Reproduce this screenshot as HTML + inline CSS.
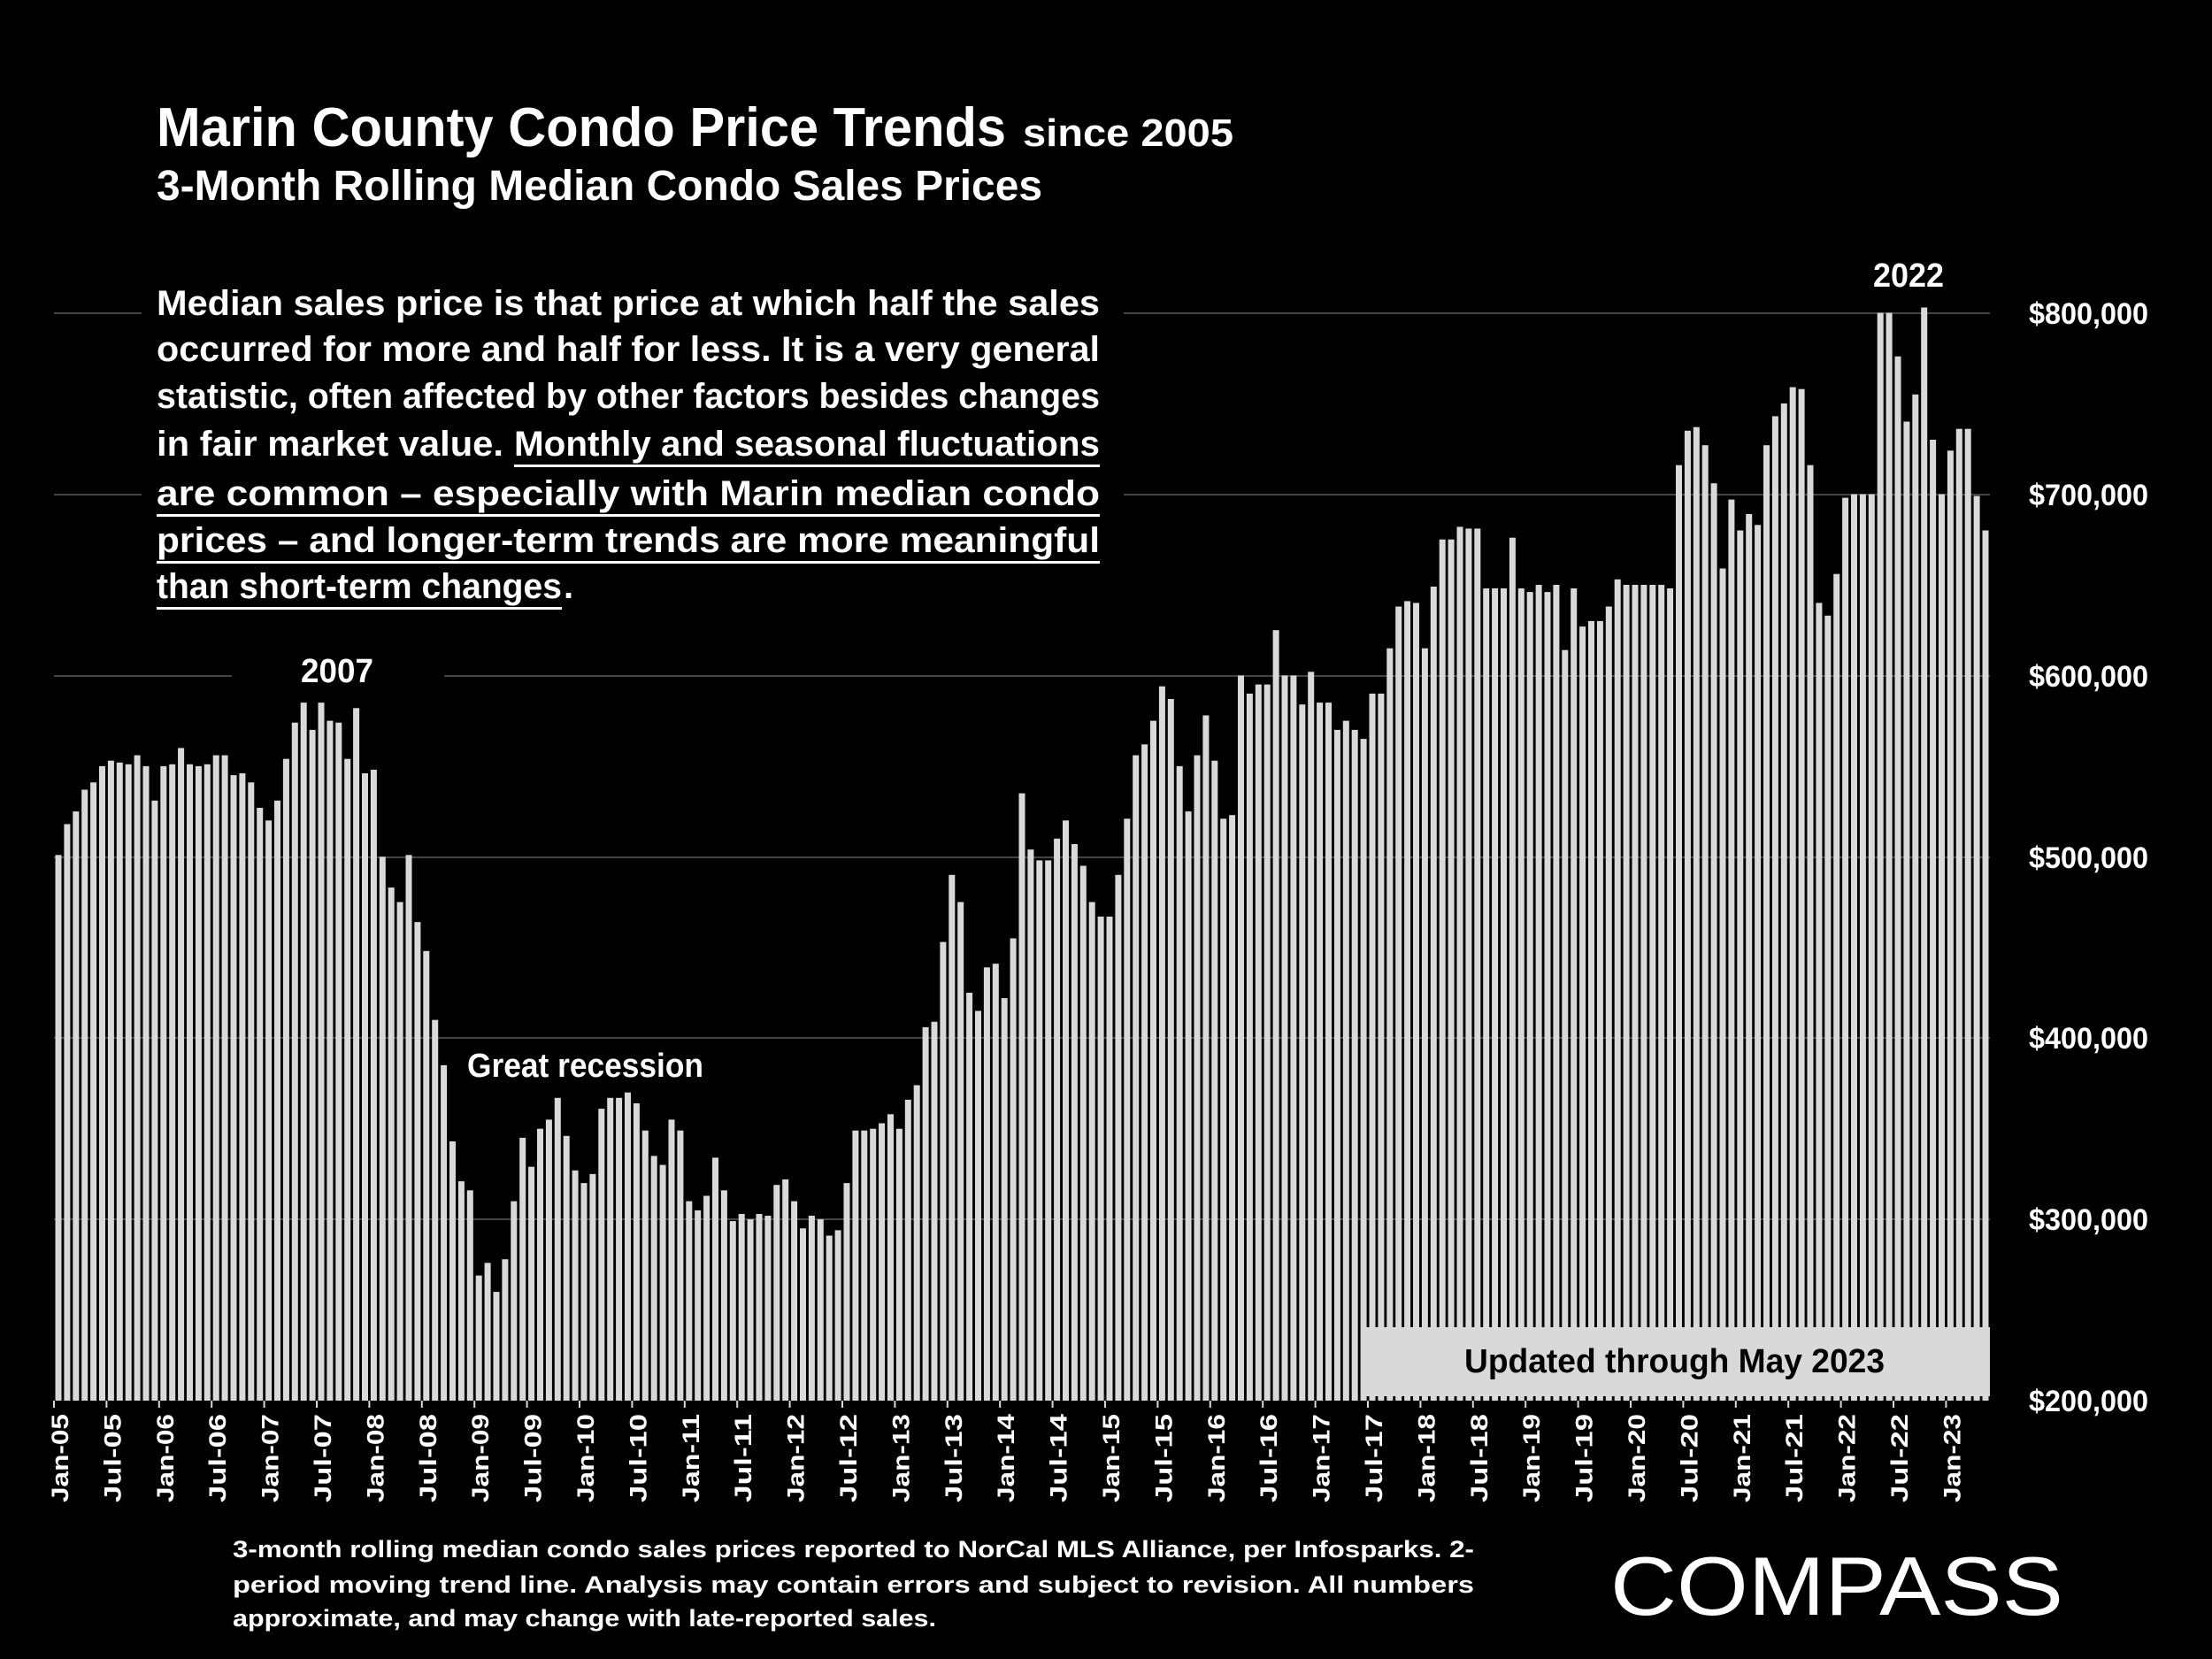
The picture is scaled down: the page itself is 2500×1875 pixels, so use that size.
<!DOCTYPE html>
<html><head><meta charset="utf-8"><style>
html,body{margin:0;padding:0;background:#000;}
svg{display:block;}
text{font-family:"Liberation Sans Narrow","Liberation Sans",sans-serif;font-weight:bold;fill:#fff;}
</style></head><body>
<svg id="s" width="2500" height="1875" viewBox="0 0 2500 1875" xmlns="http://www.w3.org/2000/svg">
<rect width="2500" height="1875" fill="#000"/>
<g id="grid" stroke="#5a5a5a" stroke-width="1.6">
<line x1="61" x2="2249" y1="354" y2="354"/>
<line x1="61" x2="2249" y1="559" y2="559"/>
<line x1="61" x2="2249" y1="764" y2="764"/>
<line x1="61" x2="2249" y1="969" y2="969"/>
<line x1="61" x2="2249" y1="1173" y2="1173"/>
<line x1="61" x2="2249" y1="1378" y2="1378"/>
</g>
<g id="bars" fill="#d9d9d9"></g>
<g id="ticks" stroke="#d9d9d9" stroke-width="2"></g>
<g id="xl"></g>
<!-- masks for text areas -->
<rect x="160" y="320" width="1110" height="380" fill="#000"/>
<rect x="262" y="735" width="240" height="50" fill="#000"/>
<!-- titles -->
<text x="177" y="165" font-size="62" textLength="960" lengthAdjust="spacingAndGlyphs">Marin County Condo Price Trends</text>
<text x="1156" y="165" font-size="44" textLength="238" lengthAdjust="spacingAndGlyphs">since 2005</text>
<text x="177" y="226" font-size="48" textLength="1001" lengthAdjust="spacingAndGlyphs">3-Month Rolling Median Condo Sales Prices</text>
<!-- paragraph -->
<g font-size="40">
<text x="177" y="356" textLength="1066" lengthAdjust="spacingAndGlyphs">Median sales price is that price at which half the sales</text>
<text x="177" y="408" textLength="1066" lengthAdjust="spacingAndGlyphs">occurred for more and half for less. It is a very general</text>
<text x="177" y="461" textLength="1066" lengthAdjust="spacingAndGlyphs">statistic, often affected by other factors besides changes</text>
<text x="177" y="515" textLength="392" lengthAdjust="spacingAndGlyphs">in fair market value.</text>
<text x="581" y="515" textLength="662" lengthAdjust="spacingAndGlyphs">Monthly and seasonal fluctuations</text>
<text x="177" y="571" textLength="1066" lengthAdjust="spacingAndGlyphs">are common – especially with Marin median condo</text>
<text x="177" y="624" textLength="1066" lengthAdjust="spacingAndGlyphs">prices – and longer-term trends are more meaningful</text>
<text x="177" y="676" textLength="458" lengthAdjust="spacingAndGlyphs">than short-term changes</text>
<text x="637" y="676">.</text>
</g>
<g fill="#fff">
<rect x="581" y="525" width="662" height="3"/>
<rect x="177" y="581" width="1066" height="3"/>
<rect x="177" y="634" width="1066" height="3"/>
<rect x="177" y="686" width="458" height="3"/>
</g>
<!-- annotations -->
<text x="340" y="771" font-size="38" textLength="82" lengthAdjust="spacingAndGlyphs">2007</text>
<text x="2117" y="324" font-size="38" textLength="80" lengthAdjust="spacingAndGlyphs">2022</text>
<text x="528" y="1217" font-size="38" textLength="267" lengthAdjust="spacingAndGlyphs">Great recession</text>
<!-- updated box -->
<rect x="1539" y="1500" width="710" height="78" fill="#d9d9d9"/>
<text x="1655" y="1551" font-size="38" textLength="475" lengthAdjust="spacingAndGlyphs" style="fill:#000">Updated through May 2023</text>
<!-- y axis -->
<g font-size="34" style="font-family:'Liberation Sans',sans-serif">
<text x="2293" y="366" textLength="135" lengthAdjust="spacingAndGlyphs">$800,000</text>
<text x="2293" y="571" textLength="135" lengthAdjust="spacingAndGlyphs">$700,000</text>
<text x="2293" y="776" textLength="135" lengthAdjust="spacingAndGlyphs">$600,000</text>
<text x="2293" y="981" textLength="135" lengthAdjust="spacingAndGlyphs">$500,000</text>
<text x="2293" y="1185" textLength="135" lengthAdjust="spacingAndGlyphs">$400,000</text>
<text x="2293" y="1390" textLength="135" lengthAdjust="spacingAndGlyphs">$300,000</text>
<text x="2293" y="1595" textLength="135" lengthAdjust="spacingAndGlyphs">$200,000</text>
</g>
<!-- footnote -->
<g font-size="27">
<text x="263" y="1760" textLength="1403" lengthAdjust="spacingAndGlyphs">3-month rolling median condo sales prices reported to NorCal MLS Alliance, per Infosparks. 2-</text>
<text x="263" y="1800" textLength="1403" lengthAdjust="spacingAndGlyphs">period moving trend line. Analysis may contain errors and subject to revision. All numbers</text>
<text x="263" y="1838" textLength="795" lengthAdjust="spacingAndGlyphs">approximate, and may change with late-reported sales.</text>
</g>
<text x="1820" y="1825" font-size="94" textLength="512" lengthAdjust="spacingAndGlyphs" style="font-family:'Liberation Sans',sans-serif;font-weight:normal">COMPASS</text>
</svg>
<script>
(function(){
var d=[501,518,525,537,541,550,553,552,551,556,550,531,
550,551,560,551,550,551,556,556,545,546,541,527,
520,531,554,574,585,570,585,575,574,554,582,546,
548,500,483,475,501,464,448,410,385,343,321,316,
269,276,260,278,310,345,329,350,355,367,346,327,
320,325,361,367,367,370,364,349,335,330,355,349,
310,305,313,334,316,299,303,300,303,302,319,322,
310,295,302,300,291,294,320,349,349,350,353,358,
350,366,374,406,409,453,490,475,425,415,439,441,
422,455,535,504,498,498,510,520,507,495,475,467,
467,490,521,556,562,575,594,587,550,525,556,578,
553,521,523,600,590,595,595,625,600,600,584,602,
585,585,570,575,570,565,590,590,615,638,641,640,
615,649,675,675,682,681,681,648,648,648,676,648,
646,650,646,650,614,648,627,630,630,638,653,650,
650,650,650,650,648,716,735,737,727,706,659,697,
680,689,683,727,743,750,759,758,716,640,633,656,
698,700,700,700,800,800,776,740,755,803,730,700,
724,736,736,699,680];
var NS="http://www.w3.org/2000/svg",P=9.9,X0=61,B=1583;
var g=document.getElementById('bars'),t=document.getElementById('ticks'),xl=document.getElementById('xl');
d.forEach(function(v,i){
 var r=document.createElementNS(NS,'rect');var h=(v-200)*2.049;
 r.setAttribute('x',(X0+i*P+1.5).toFixed(1));r.setAttribute('width','7');
 r.setAttribute('y',(B-h).toFixed(1));r.setAttribute('height',h.toFixed(1));g.appendChild(r);
});
for(var m=0;m<=216;m+=6){
 var x=X0+m*P;var l=document.createElementNS(NS,'line');
 l.setAttribute('x1',x);l.setAttribute('x2',x);l.setAttribute('y1',B);l.setAttribute('y2',B+8);t.appendChild(l);
 var yr=5+Math.floor(m/12);var lab=(m%12==0?'Jan-':'Jul-')+(yr<10?'0':'')+yr;
 var tx=document.createElementNS(NS,'text');tx.setAttribute('font-size','27');
 tx.setAttribute('text-anchor','end');tx.setAttribute('textLength','100');tx.setAttribute('lengthAdjust','spacingAndGlyphs');
 tx.setAttribute('transform','translate('+(x+16)+',1598) rotate(-90)');tx.textContent=lab;xl.appendChild(tx);
}
})();
</script>
</body></html>
